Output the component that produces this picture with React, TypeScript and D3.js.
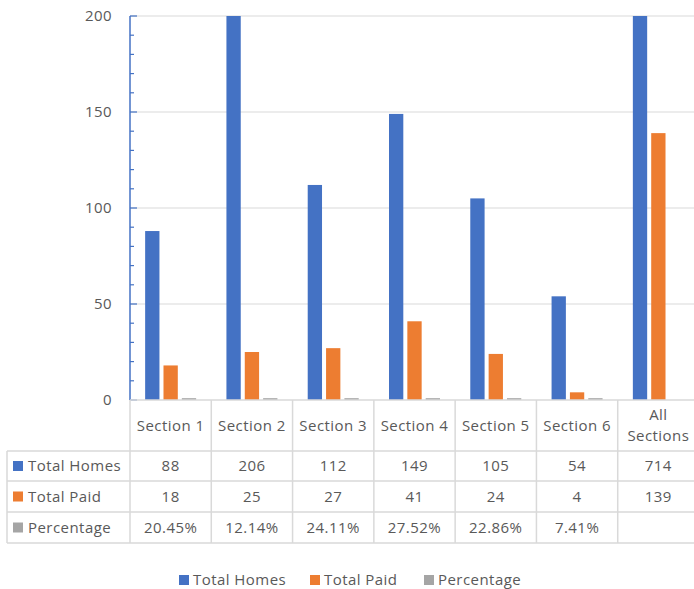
import * as d3 from "d3";

const categories = ["Section 1", "Section 2", "Section 3", "Section 4", "Section 5", "Section 6", "All Sections"];
const totalHomes = [88, 206, 112, 149, 105, 54, 714];
const totalPaid = [18, 25, 27, 41, 24, 4, 139];
const percentage = [0.2045, 0.1214, 0.2411, 0.2752, 0.2286, 0.0741, null];
const percentageLabels = ["20.45%", "12.14%", "24.11%", "27.52%", "22.86%", "7.41%", ""];
const yTicks = [0, 50, 100, 150, 200];

const SERIES = [
  { name: "Total Homes", color: "#4472C4", values: totalHomes, labels: totalHomes.map(String) },
  { name: "Total Paid", color: "#ED7D31", values: totalPaid, labels: totalPaid.map(String) },
  { name: "Percentage", color: "#A5A5A5", values: percentage, labels: percentageLabels },
];

const W = 694;
const H = 589;
const PLOT = { left: 130, right: 699, top: 16, bottom: 400 };
const ROWS = [400, 451, 481, 512, 543];
const TABLE_LEFT = 7;
const FONT = "'Open Sans', 'Noto Sans', sans-serif";
const FS = 15;
const LS = 0.45;
const TEXT = "#595959";
const GRID = "#d9d9d9";

export default function App() {
  const x0 = d3.scaleBand().domain(categories).range([PLOT.left, PLOT.right]);
  const groupW = 51;
  const x1 = d3
    .scaleBand()
    .domain(SERIES.map((s) => s.name))
    .range([0, groupW])
    .paddingInner(0.22);
  const y = d3.scaleLinear().domain([0, 200]).range([PLOT.bottom, PLOT.top]);
  const minorTicks = d3.range(0, 201, 10);

  return (
    <svg
      width={W}
      height={H}
      style={{ position: "absolute", left: 0, top: 0, background: "#fff" }}
      fontFamily={FONT}
      fontSize={FS}
      letterSpacing={LS}
    >
      <defs>
        <clipPath id="plot-clip">
          <rect x={PLOT.left} y={PLOT.top} width={PLOT.right - PLOT.left} height={PLOT.bottom - PLOT.top} />
        </clipPath>
      </defs>

      {/* gridlines */}
      {yTicks.slice(1).map((t) => (
        <line key={t} x1={PLOT.left} x2={PLOT.right} y1={y(t)} y2={y(t)} stroke={GRID} strokeWidth={1.2} />
      ))}

      {/* bars */}
      <g clipPath="url(#plot-clip)">
        {categories.map((c, i) => {
          const gx = x0(c)! + (x0.bandwidth() - groupW) / 2;
          return SERIES.map((s) => {
            const v = s.values[i];
            if (v == null) return null;
            const h = Math.max(y(0) - y(v), 1.8);
            return (
              <rect
                key={c + s.name}
                x={gx + x1(s.name)!}
                y={y(0) - h}
                width={x1.bandwidth()}
                height={h}
                fill={s.color}
              />
            );
          });
        })}
      </g>

      {/* y axis */}
      <line x1={PLOT.left} x2={PLOT.left} y1={PLOT.top} y2={PLOT.bottom} stroke="#4472C4" strokeWidth={1.5} />
      {minorTicks.map((t) => (
        <line
          key={t}
          x1={PLOT.left}
          x2={PLOT.left + (t % 50 === 0 ? 7 : 4)}
          y1={y(t)}
          y2={y(t)}
          stroke="#4472C4"
          strokeWidth={1.2}
        />
      ))}
      {yTicks.map((t) => (
        <text key={t} x={112} y={y(t)} dy="0.35em" textAnchor="end" fill={TEXT}>
          {t}
        </text>
      ))}

      {/* data table */}
      <g stroke={GRID} strokeWidth={1.5} fill="none">
        <line x1={PLOT.left} x2={PLOT.right} y1={ROWS[0]} y2={ROWS[0]} />
        {ROWS.slice(1).map((r) => (
          <line key={r} x1={TABLE_LEFT} x2={PLOT.right} y1={r} y2={r} />
        ))}
        <line x1={TABLE_LEFT} x2={TABLE_LEFT} y1={ROWS[1]} y2={ROWS[4]} />
        {categories.map((c) => (
          <line key={c} x1={x0(c)!} x2={x0(c)!} y1={ROWS[0]} y2={ROWS[4]} />
        ))}
      </g>

      {categories.map((c) => {
        const cx = x0(c)! + x0.bandwidth() / 2;
        const words = c === "All Sections" ? ["All", "Sections"] : [c];
        return words.map((w, j) => (
          <text
            key={c + w}
            x={cx}
            y={(ROWS[0] + ROWS[1]) / 2 + (j - (words.length - 1) / 2) * 21}
            dy="0.35em"
            textAnchor="middle"
            fill={TEXT}
          >
            {w}
          </text>
        ));
      })}

      {SERIES.map((s, r) => {
        const cy = (ROWS[r + 1] + ROWS[r + 2]) / 2;
        return (
          <g key={s.name}>
            <rect x={13} y={cy - 5} width={10} height={10} fill={s.color} />
            <text x={28} y={cy} dy="0.35em" fill={TEXT}>
              {s.name}
            </text>
            {categories.map((c, i) => (
              <text
                key={c}
                x={x0(c)! + x0.bandwidth() / 2}
                y={cy}
                dy="0.35em"
                textAnchor="middle"
                fill={TEXT}
              >
                {s.labels[i]}
              </text>
            ))}
          </g>
        );
      })}

      {/* legend */}
      {SERIES.map((s, i) => {
        const lx = [179, 310, 424][i];
        return (
          <g key={s.name} transform={`translate(${lx},580)`}>
            <rect x={0} y={-5} width={10} height={10} fill={s.color} />
            <text x={14} y={0} dy="0.35em" fill={TEXT}>
              {s.name}
            </text>
          </g>
        );
      })}
    </svg>
  );
}
